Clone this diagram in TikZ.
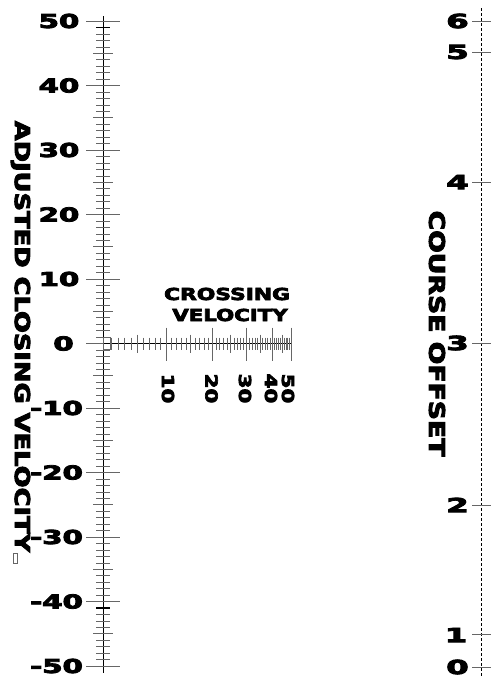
\documentclass[tikz,border=0pt]{standalone}
\usepackage{fontspec}
\usepackage{graphicx}
\newfontfamily\wfam{DejaVu Sans}[BoldFeatures={FakeBold=4}]
\newcommand\lab[3]{{\wfam\bfseries\fontsize{#2pt}{#2pt}\selectfont\scalebox{#1}[1]{#3}}}
\begin{document}
\begin{tikzpicture}[x=1pt,y=-1pt,
  axisline/.style={line width=0.9pt, black},
  tickline/.style={line width=0.6pt, black!60},
  heavytick/.style={line width=1.3pt, black},
  dashaxis/.style={line width=1pt, black, dash pattern=on 3pt off 2pt},
  lbl/.style={inner sep=0pt, anchor=center},
  artefact/.style={line width=0.4pt, black!60}
]
\fill[white] (0,0) rectangle (496,686);
\useasboundingbox (0,0) rectangle (496,686);

% ---------- left axis: adjusted closing velocity ----------
\coordinate (ltop) at (103,16);
\coordinate (lbot) at (103,673);
\draw[axisline] (ltop) -- (lbot);
\foreach \v in {-50,...,50}{
  \pgfmathsetmacro\yy{343.5-6.45*\v}
  \pgfmathsetmacro\tl{ifthenelse(mod(abs(\v),10)==0,17,ifthenelse(mod(abs(\v),5)==0,10,7))}
  \draw[tickline] (103-\tl,\yy) -- (103+\tl,\yy);
}
\draw[heavytick] (96,27.5) -- (110,27.5);
\draw[heavytick] (96,607.9) -- (110,607.9);
\foreach \v in {10,20,30,40,50}{
  \pgfmathsetmacro\yy{343.5-6.45*\v}
  \node[lbl] (lp\v) at (59,\yy) {\lab{1.52}{19.2}{\v}};
  \pgfmathsetmacro\yn{343.5+6.45*\v}
  \node[lbl] (ln\v) at (56.5,\yn) {\lab{1.52}{19.2}{-\v}};
}
\node[lbl] (l0) at (63.5,343.5) {\lab{1.52}{19.2}{0}};
\node[lbl,rotate=-90] (acv) at (20.5,336.5) {\lab{1.25}{20.6}{ADJUSTED CLOSING VELOCITY}};
\draw[artefact] (13,553) rectangle (17,563);

% ---------- crossing velocity axis ----------
\coordinate (corig) at (103,343.5);
\coordinate (cend) at (292,343.5);
\draw[axisline] (corig) -- (cend);
\draw[artefact] (103,337) rectangle (110,349);
\foreach \v in {1,...,50}{
  \pgfmathsetmacro\xx{104+243*(1-exp(-\v/34))}
  \pgfmathsetmacro\tu{ifthenelse(mod(\v,10)==0,16,ifthenelse(mod(\v,5)==0,9,6))}
  \pgfmathsetmacro\td{ifthenelse(mod(\v,10)==0,17,ifthenelse(mod(\v,5)==0,9,6))}
  \draw[tickline] (\xx,343.5-\tu) -- (\xx,343.5+\td);
}
\foreach \v/\xx in {10/168,20/211.5,30/245,40/271,50/288}{
  \node[lbl,rotate=-90] (cv\v) at (\xx,388.5) {\lab{1.29}{16.5}{\v}};
}
\node[lbl] (cross1) at (227,294) {\lab{1.32}{16.5}{CROSSING}};
\node[lbl] (cross2) at (230,315) {\lab{1.29}{16.5}{VELOCITY}};

% ---------- right axis: course offset ----------
\coordinate (rtop) at (481,8);
\coordinate (rbot) at (481,677);
\draw[dashaxis] (rtop) -- (rbot);
\foreach \v/\yy in {0/667,2/505,3/343,4/182,5/52,6/21}{
  \draw[tickline] (472,\yy) -- (491,\yy);
  \node[lbl] (ro\v) at (457.5,\yy) {\lab{1.65}{19.5}{\v}};
}
\draw[tickline] (472,634) -- (491,634);
\node[lbl] (ro1) at (456,635) {\lab{1.65}{19.5}{1}};
\node[lbl,rotate=-90] (co) at (437,333.5) {\lab{1.24}{21.5}{COURSE OFFSET}};
\end{tikzpicture}
\end{document}
